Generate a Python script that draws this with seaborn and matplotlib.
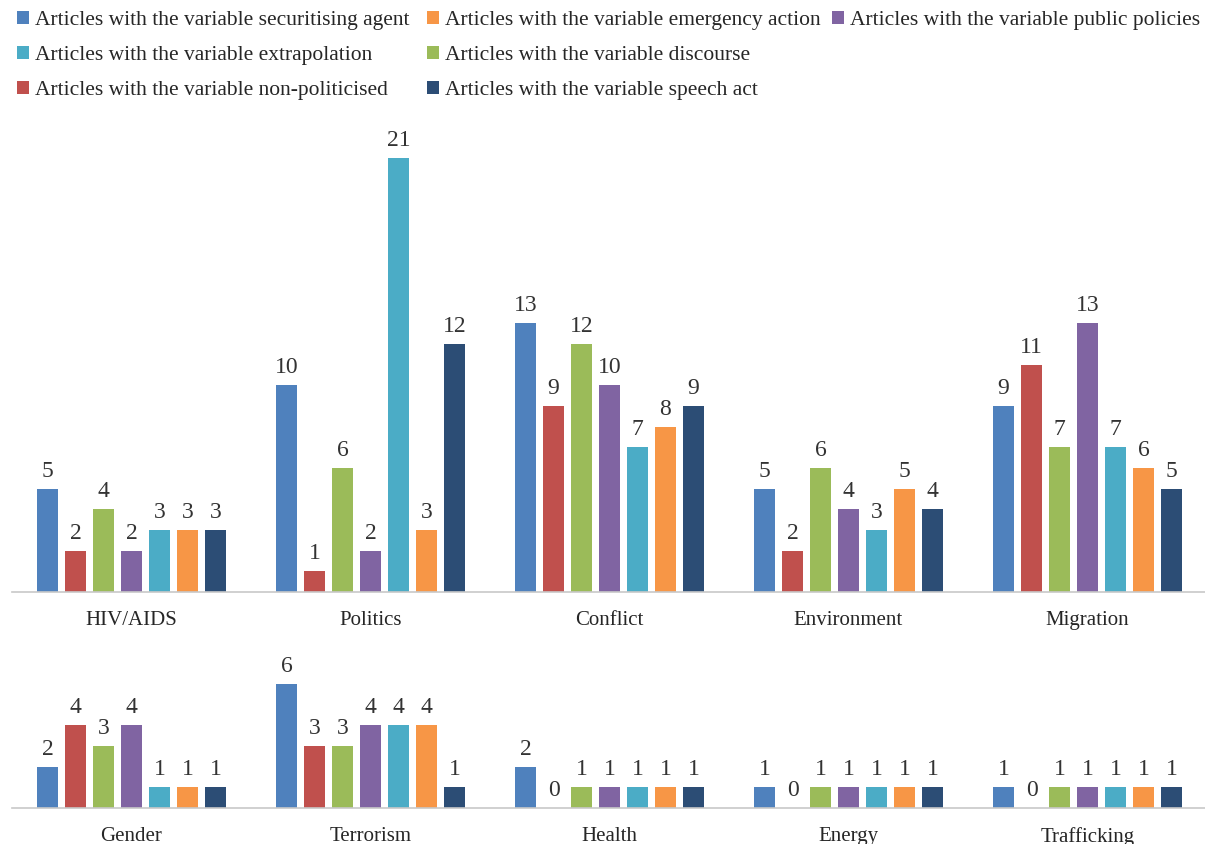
import matplotlib
matplotlib.use("Agg")
import matplotlib.pyplot as plt
import seaborn as sns
import pandas as pd
import numpy as np
from matplotlib.patches import Patch

series = [
    "Articles with the variable securitising agent",
    "Articles with the variable non-politicised",
    "Articles with the variable discourse",
    "Articles with the variable public policies",
    "Articles with the variable extrapolation",
    "Articles with the variable emergency action",
    "Articles with the variable speech act",
]
colors = ["#4F81BD", "#C0504D", "#9BBB59", "#8064A2", "#4BACC6", "#F79646", "#2C4D75"]

top_categories = ["HIV/AIDS", "Politics", "Conflict", "Environment", "Migration"]
bottom_categories = ["Gender", "Terrorism", "Health", "Energy", "Trafficking"]

# values per series, in order of categories (top row then bottom row)
securitising_agent = [5, 10, 13, 5, 9, 2, 6, 2, 1, 1]
non_politicised    = [2, 1, 9, 2, 11, 4, 3, 0, 0, 0]
discourse          = [4, 6, 12, 6, 7, 3, 3, 1, 1, 1]
public_policies    = [2, 2, 10, 4, 13, 4, 4, 1, 1, 1]
extrapolation      = [3, 21, 7, 3, 7, 1, 4, 1, 1, 1]
emergency_action   = [3, 3, 8, 5, 6, 1, 4, 1, 1, 1]
speech_act         = [3, 12, 9, 4, 5, 1, 1, 1, 1, 1]

all_vals = [securitising_agent, non_politicised, discourse, public_policies,
            extrapolation, emergency_action, speech_act]
cats = top_categories + bottom_categories

rows = []
for s, vals in zip(series, all_vals):
    for c, v in zip(cats, vals):
        rows.append({"category": c, "series": s, "value": v})
df = pd.DataFrame(rows)

sns.set_style("white")
plt.rcParams["font.family"] = ["Liberation Serif", "DejaVu Serif"]

W, H = 1205, 844
fig = plt.figure(figsize=(W / 100, H / 100), dpi=100)

def make_ax(y_base, y_top):
    return fig.add_axes([12 / W, (H - y_base) / H, 1195 / W, (y_base - y_top) / H])

ax1 = make_ax(592, 126)
ax2 = make_ax(808, 653)
unit_px = (592 - 158) / 21.0

palette = dict(zip(series, colors))
for ax, cl, y_base, y_top in [(ax1, top_categories, 592, 126), (ax2, bottom_categories, 808, 653)]:
    sub = df[df["category"].isin(cl)]
    sns.barplot(data=sub, x="category", y="value", hue="series", order=cl,
                hue_order=series, palette=palette, saturation=1, width=0.82,
                ax=ax, legend=False, errorbar=None)
    for p in ax.patches:
        w = p.get_width()
        p.set_x(p.get_x() + w * 0.1075)
        p.set_width(w * 0.785)
        p.set_edgecolor("none")
    ax.set_ylim(0, (y_base - y_top) / unit_px)
    ax.set_xlim(-0.5, len(cl) - 0.5)
    for cont in ax.containers:
        ax.bar_label(cont, fmt="%d", padding=5, fontsize=17, color="#333333")
    for sp in ["top", "right", "left"]:
        ax.spines[sp].set_visible(False)
    ax.spines["bottom"].set_color("#c8c8c8")
    ax.spines["bottom"].set_linewidth(1.2)
    ax.set_yticks([])
    ax.set_xlabel("")
    ax.set_ylabel("")
    ax.set_xticks(range(len(cl)))
    ax.set_xticklabels(cl, fontsize=15, color="#262626")
    ax.tick_params(axis="x", which="major", length=0, pad=14)
    ax.set_xticks(np.arange(-0.5, len(cl), 1.0), minor=True)
    ax.tick_params(axis="x", which="minor", length=6, width=1.2, color="#8c8c8c", direction="out")
    ax.patch.set_alpha(0)

# legend: three columns as in the reference
legend_cols = [([0, 4, 1], 17), ([5, 2, 6], 427), ([3], 832)]
for idxs, xpx in legend_cols:
    handles = [Patch(facecolor=colors[i], edgecolor="none") for i in idxs]
    labels = [series[i] for i in idxs]
    fig.legend(handles, labels, loc="upper left", bbox_to_anchor=(xpx / W, 1 - 11 / H),
               ncol=1, frameon=False, fontsize=15.5, handlelength=0.55, handleheight=0.55,
               handletextpad=0.3, labelspacing=0.73, borderaxespad=0, borderpad=0,
               labelcolor="#262626")

fig.savefig("out.png", dpi=100)
